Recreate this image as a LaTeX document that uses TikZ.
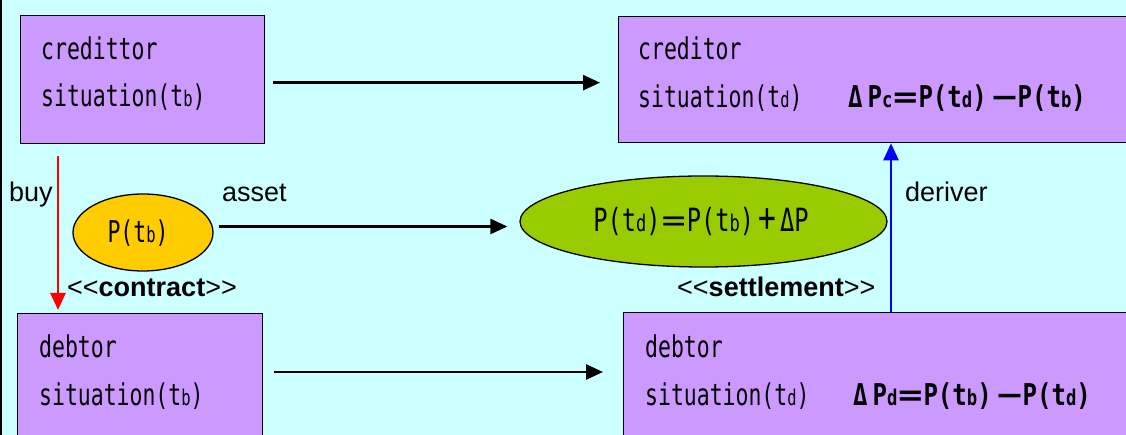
\documentclass[tikz,border=0pt]{standalone}
\usepackage{fontspec}
\setmainfont{Liberation Sans}
\newfontfamily\gothic[FakeStretch=0.715]{DejaVu Sans Mono}
\newfontfamily\gothicE[FakeStretch=0.74]{DejaVu Sans Mono}
\newfontfamily\formfont[FakeStretch=0.8]{DejaVu Sans Mono}
\usetikzlibrary{arrows.meta,shapes.geometric}
\definecolor{bgc}{HTML}{CCFFFF}
\definecolor{boxc}{HTML}{CC99FF}
\definecolor{yel}{HTML}{FFCC00}
\definecolor{grn}{HTML}{99CC00}
\definecolor{bluearr}{HTML}{0000FF}
\newcommand\sbx[1]{\scalebox{0.72}{#1}}
\newcommand\fw[1]{\makebox[26pt]{\scalebox{1.7}[1]{#1}}}
\newcommand\fwp[1]{\makebox[26pt]{\scalebox{1.25}{#1}}}
\tikzset{
  boxnode/.style={draw=black, line width=1.3pt, fill=boxc, rectangle, inner sep=0pt, anchor=north west},
  gtext/.style={inner sep=0pt, anchor=base west, font=\gothic\fontsize{30}{32}\selectfont},
  etext/.style={inner sep=0pt, anchor=base, font=\gothicE\fontsize{32}{34}\selectfont},
  ftext/.style={inner sep=0pt, anchor=base west, font=\formfont\bfseries\fontsize{30}{32}\selectfont},
  lbl/.style={inner sep=0pt, anchor=base west, font=\fontsize{27}{30}\selectfont},
  arr/.style={line width=2.6pt, -{Triangle[length=17pt,width=15pt]}},
  ell/.style={ellipse, draw=black, line width=1.3pt, inner sep=0pt},
}
\begin{document}
\begin{tikzpicture}[x=1pt,y=-1pt]
\clip (0,0) rectangle (1126,435);
\fill[bgc] (0,0) rectangle (1126,435);
\draw[line width=1.5pt] (0.75,0) -- (0.75,435);
% boxes
\node[boxnode, minimum width=244pt, minimum height=128pt] (cb) at (20,15) {};
\node[boxnode, minimum width=540pt, minimum height=126pt] (cd) at (618,16) {};
\node[boxnode, minimum width=245pt, minimum height=160pt] (db) at (17,313) {};
\node[boxnode, minimum width=540pt, minimum height=160pt] (dd) at (623,312) {};
% box texts
\node[gtext] (cb1) at ([shift={(21,45)}]cb.north west) {credittor};
\node[gtext] (cb2) at ([shift={(21,92)}]cb.north west) {situation(t\sbx{b})};
\node[gtext] (cd1) at ([shift={(20,44)}]cd.north west) {creditor};
\node[gtext] (cd2) at ([shift={(20,92)}]cd.north west) {situation(t\sbx{d})};
\node[ftext] (cdf) at ([shift={(230,92)}]cd.north west) {Δ\,P\sbx{c}\fw{=}P(t\sbx{d})\,\fw{−}P(t\sbx{b})};
\node[gtext] (db1) at ([shift={(22,44)}]db.north west) {debtor};
\node[gtext] (db2) at ([shift={(22,92)}]db.north west) {situation(t\sbx{b})};
\node[gtext] (dd1) at ([shift={(22,45)}]dd.north west) {debtor};
\node[gtext] (dd2) at ([shift={(22,93)}]dd.north west) {situation(t\sbx{d})};
\node[ftext] (ddf) at ([shift={(230,93)}]dd.north west) {Δ\,P\sbx{d}\fw{=}P(t\sbx{b})\,\fw{−}P(t\sbx{d})};
% ellipses
\node[ell, fill=yel, minimum width=140pt, minimum height=77pt] (pa) at (143,232.5) {};
\node[gtext, anchor=base] (pat) at (138,243) {P(t\sbx{b})};
\node[ell, fill=grn, minimum width=367pt, minimum height=91pt] (pd) at (703.5,221.5) {};
\node[etext] (pdt) at (701,232) {P(t\sbx{d})\fw{=}P(t\sbx{b})\fwp{+}ΔP};
% labels
\node[lbl] (buy) at (9,202) {buy};
\node[lbl] (asset) at (222,202) {asset};
\node[lbl] (deriver) at (905,202) {deriver};
\node[lbl] (contract) at (67,297) {<{}<\textbf{contract}>{}>};
\node[lbl] (settle) at (677,297) {<{}<\textbf{settlement}>{}>};
% arrow anchors
\coordinate (a1s) at ([shift={(8,3)}]cb.east);
\coordinate (a1e) at ([shift={(-18,3)}]cb.east -| cd.west);
\coordinate (a2s) at ([shift={(11,59)}]db.north east);
\coordinate (a2x) at ([xshift=-20pt]dd.west);
\coordinate (a3s) at ([shift={(5,-6)}]pa.east);
\coordinate (a3x) at ([xshift=-12pt]pd.west);
\coordinate (a4s) at ([shift={(38,12)}]cb.south west);
\coordinate (a4e) at ([shift={(41,-3)}]db.north west);
\coordinate (a5s) at ([shift={(268,0)}]dd.north west);
% arrows
\draw[arr] (a1s) -- (a1e);
\draw[arr] (a2s) -- (a2x |- a2s);
\draw[arr] (a3s) -- (a3x |- a3s);
\draw[arr, red] (a4s) -- (a4e);
\draw[arr, bluearr] (a5s) -- (a5s |- cd.south);
\end{tikzpicture}
\end{document}
